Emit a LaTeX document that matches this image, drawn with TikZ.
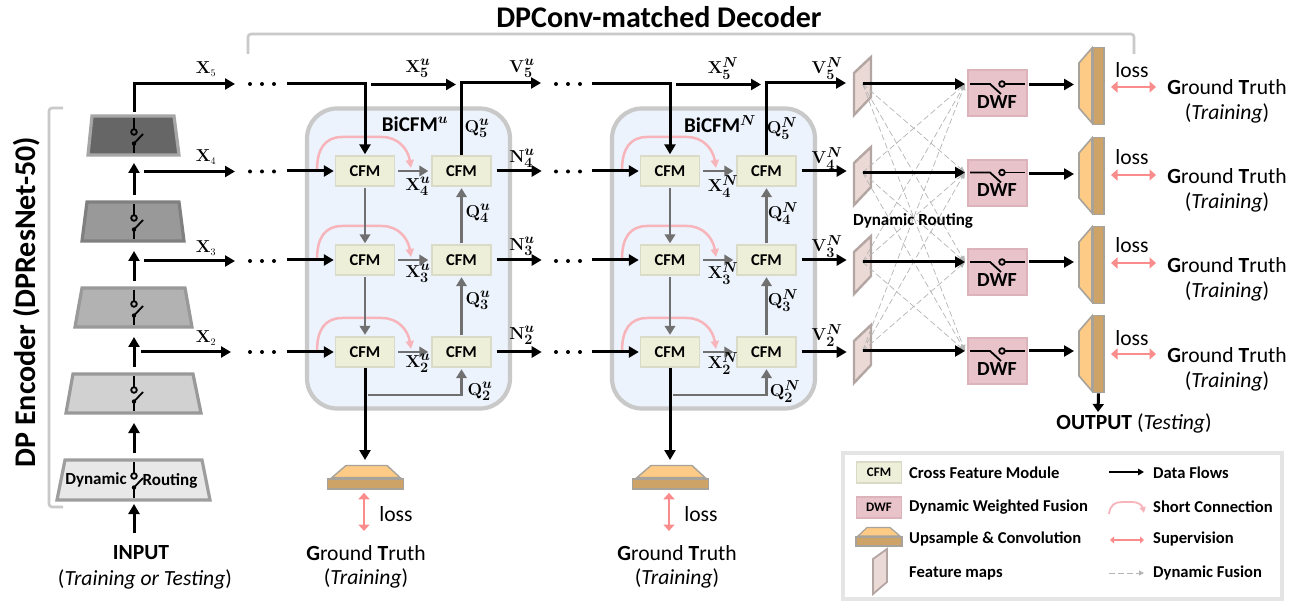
\documentclass[tikz,border=0pt]{standalone}
\usepackage[no-math]{fontspec}
\setmainfont{Carlito}
\usetikzlibrary{arrows.meta,calc}
\DeclareMathSizes{18}{18}{13.5}{10}
\DeclareMathSizes{21}{21}{15}{11}
\definecolor{brk}{HTML}{C9C9C9}
\definecolor{blockf}{HTML}{EDF3FC}
\definecolor{cfmf}{HTML}{EDEFD8}
\definecolor{cfmb}{HTML}{D9DBC8}
\definecolor{dwff}{HTML}{E8C3CA}
\definecolor{dwfb}{HTML}{DDB3BB}
\definecolor{grayar}{HTML}{707070}
\definecolor{pinka}{HTML}{F7B4BA}
\definecolor{pinks}{HTML}{FB8C8C}
\definecolor{orf}{HTML}{FDCB85}
\definecolor{orr}{HTML}{CDA368}
\definecolor{orb}{HTML}{A8A39A}
\definecolor{fmf}{HTML}{EBD9D5}
\definecolor{fmb}{HTML}{B3A6A2}
\definecolor{dashc}{HTML}{B5B5B5}
\tikzset{
  blk/.style={line width=3pt,black,-{Triangle[length=10pt,width=11pt]}},
  gra/.style={line width=2.6pt,grayar,-{Triangle[length=9pt,width=10.5pt]}},
  pnk/.style={line width=2.5pt,pinka,-{Triangle[length=8pt,width=8pt]}},
  superv/.style={line width=2.6pt,pinks,{Triangle[length=6.5pt,width=11pt]}-{Triangle[length=6.5pt,width=11pt]}},
  dsh/.style={line width=.7pt,dashc,dash pattern=on 6pt off 3pt,-{Triangle[length=6pt,width=5pt]}},
  cfmbox/.style={draw=cfmb,line width=1.4pt,fill=cfmf,minimum width=59pt,minimum height=30pt,inner sep=0pt,font=\fontsize{16.5}{18}\selectfont\bfseries},
  dwfbox/.style={draw=dwfb,line width=1.2pt,fill=dwff,minimum width=59pt,minimum height=46pt,inner sep=0pt},
  anch/.style={inner sep=0pt,outer sep=0pt},
  mlab/.style={inner sep=0pt,yshift=1.5pt,font=\fontsize{18}{20}\selectfont\boldmath},
  xlab/.style={inner sep=0pt,font=\fontsize{18}{20}\selectfont},
  txt/.style={inner sep=0pt,font=\fontsize{21.6}{24}\selectfont},
  btxt/.style={inner sep=0pt,font=\fontsize{21.6}{24}\selectfont\bfseries},
  smb/.style={inner sep=0pt,font=\fontsize{17}{19}\selectfont\bfseries},
  lgt/.style={inner sep=0pt,anchor=west,font=\fontsize{16.6}{18}\selectfont\bfseries},
  dotc/.style={fill=black,draw=none},
  swl/.style={line width=1.8pt,black},
  brkt/.style={line width=2.6pt,brk,rounded corners=3pt},
}
\newcommand{\encoder}[9]{% name, ytop, ybot, top l, top r, bot l, bot r, fill, border
  \draw[line width=3.2pt,#9,fill=#8,line join=miter] (#4,#2) -- (#5,#2) -- (#7,#3) -- (#6,#3) -- cycle;
  \pgfmathsetmacro{\ymid}{(#2+#3)/2}
  \pgfmathsetmacro{\wid}{#7-#6}
  \pgfmathsetmacro{\hei}{#3-#2}
  \node[anch,minimum width=\wid pt,minimum height=\hei pt] (#1) at (134,\ymid) {};
  \draw[swl] (134,{#2+2}) -- (134,{#2+13});
  \draw[swl] (134,{#2+16}) circle (2.8pt);
  \fill (134,{#2+27.5}) circle (2.2pt);
  \draw[swl] (134,{#2+27.5}) -- (143,{#2+18});
  \draw[swl] (134,{#2+27.5}) -- (134,{#3-2});
}
\begin{document}
\begin{tikzpicture}[x=1pt,y=-1pt]
\useasboundingbox (0,0) rectangle (1306,601);
\fill[white] (0,0) rectangle (1306,601);

% title and brackets
\node[inner sep=0pt,font=\fontsize{30}{32}\selectfont\bfseries] (title) at (659,17) {DPConv-matched Decoder};
\draw[brkt] (248,54) -- (248,34) -- (1134,34) -- (1134,54);
\draw[brkt] (63,108) -- (49,108) -- (49,507) -- (63,507);
\node[inner sep=0pt,rotate=90,font=\fontsize{30}{32}\selectfont\bfseries] (enc) at (27,302) {DP Encoder (DPResNet-50)};

% encoder
\encoder{E5}{116}{155}{92}{174}{88}{179}{black!60}{black!35}
\encoder{E4}{202}{241}{87}{179}{82}{184}{black!40}{black!50}
\encoder{E3}{288}{327}{82}{185}{75}{192}{black!30}{black!40}
\encoder{E2}{374}{413}{73}{193}{66}{201}{black!18}{black!40}
\encoder{E1}{460}{500}{65}{202}{57}{210}{black!9}{black!38}
\node[smb] (dyn1) at (96,480) {Dynamic};
\node[smb] (rout1) at (170,481) {Routing};

\node[btxt] (inp) at (141,553) {INPUT};
\node[txt] (inp2) at (145,579) {(\textit{Training or Testing})};
\coordinate (inps) at (134,533);
\draw[blk,shorten >=4pt] (inps) -- (E1.south);
\draw[blk,shorten <=7pt,shorten >=10pt] (E1.north) -- (E2.south);
\draw[blk,shorten <=7pt,shorten >=10pt] (E2.north) -- (E3.south);
\draw[blk,shorten <=7pt,shorten >=10pt] (E3.north) -- (E4.south);
\draw[blk,shorten <=7pt,shorten >=8pt] (E4.north) -- (E5.south);

% encoder outputs
\coordinate (x5a) at (235,84);
\coordinate (x4s) at (144,171.5); \coordinate (x4a) at (235,171.5);
\coordinate (x3s) at (144,261);   \coordinate (x3a) at (235,261);
\coordinate (x2s) at (141,352);   \coordinate (x2a) at (231,352);
\draw[blk,shorten <=4pt] (E5.north) -- (134,84) -- (x5a);
\draw[blk] (x4s) -- (x4a);
\draw[blk] (x3s) -- (x3a);
\draw[blk] (x2s) -- (x2a);
\node[xlab] (lx5) at (206,69) {$\mathbf{X}_{\scriptscriptstyle 5}$};
\node[xlab] (lx4) at (206,157) {$\mathbf{X}_{\scriptscriptstyle 4}$};
\node[xlab] (lx3) at (206,248) {$\mathbf{X}_{\scriptscriptstyle 3}$};
\node[xlab] (lx2) at (206,338) {$\mathbf{X}_{\scriptscriptstyle 2}$};

% dots
\foreach \y in {84,171.5,261,352}{
  \foreach \x in {250,262,274}{\fill[dotc] (\x,\y) circle (2pt);}
  \foreach \x in {556,568,580}{\fill[dotc] (\x,\y) circle (2pt);}
}

% two BiCFM blocks
\foreach \off/\s/\nm/\gtx in {0/u/N/366,305/N/V/372}{
\begin{scope}[shift={(\off,0)}]
  \node[draw=brk,line width=4.2pt,fill=blockf,rounded corners=30pt,minimum width=203pt,minimum height=300pt,inner sep=0pt] (blk\s) at (408.5,258.5) {};
  \node[inner sep=0pt,font=\fontsize{21}{23}\selectfont\bfseries\boldmath] (bi\s) at (415,124) {BiCFM$^{\s}$};
  % short connections
  \foreach \y/\r in {171/4,260/3,352/2}{
    \draw[pnk,line cap=round] (317,{\y-1}) .. controls (317,{\y-22}) and (325,{\y-34}) .. (342,{\y-34}) -- (382,{\y-34}) .. controls (398,{\y-34}) and (408,{\y-22}) .. (411,{\y-3});
  }
  % CFMs
  \foreach \y/\r in {171/4,260/3,352/2}{
    \node[cfmbox] (L\r\s) at (365,\y) {CFM};
    \node[cfmbox] (R\r\s) at (461.5,\y) {CFM};
  }
  \foreach \r/\y in {4/171,3/260,2/352}{
    \draw[blk,shorten >=1pt] ($(L\r\s.west)+(-48,0)$) -- (L\r\s.west);
    \draw[gra,shorten <=3pt,shorten >=3pt] (L\r\s.east) -- (R\r\s.west);
    \coordinate (nx\r\s) at ($(R\r\s.east)+(50,0)$);
    \draw[blk,shorten <=5pt] (R\r\s.east) -- (nx\r\s);
  }
  \draw[gra,shorten <=1.5pt,shorten >=1pt] (L4\s.south) -- (L3\s.north);
  \draw[gra,shorten <=1.5pt,shorten >=1.5pt] (L3\s.south) -- (L2\s.north);
  \draw[gra,shorten <=1pt,shorten >=1.5pt] (R3\s.north) -- (R4\s.south);
  \draw[gra,shorten <=1pt,shorten >=1.5pt] (R2\s.north) -- (R3\s.south);
  \coordinate (qs\s) at (368,395);
  \draw[gra,shorten >=1.5pt] (qs\s) -- (R2\s.south |- qs\s) -- (R2\s.south);
  % top row
  \coordinate (t0\s) at (287,84);
  \draw[blk,shorten >=1pt] (t0\s) -- (L4\s.north |- t0\s) -- (L4\s.north);
  \coordinate (t1\s) at (371,84.5);
  \coordinate (t2\s) at (456,84.5);
  \draw[blk] (t1\s) -- (t2\s);
  \coordinate (vt\s) at (541,83);
  \draw[blk] (R4\s.north) -- (R4\s.north |- vt\s) -- (vt\s);
  % upsample head
  \coordinate (us\s) at (365,460);
  \draw[blk] (L2\s.south) -- (us\s);
  \draw[line width=1.4pt,orb,fill=orf] (332,477.5) -- (346,465.5) -- (387,465.5) -- (400,477.5) -- cycle;
  \node[draw=orb,line width=1.6pt,fill=orr,minimum width=76pt,minimum height=10pt,inner sep=0pt] (up\s) at (365.5,484) {};
  \node[txt] (gt\s) at (\gtx,553) {\textbf{G}round \textbf{T}ruth};
  \node[txt] (tr\s) at (\gtx,578) {(\textit{Training})};
  \node[txt] (ls\s) at (396,514) {loss};
  \coordinate (ga\s) at (364,531);
  \draw[superv,shorten <=3pt] (up\s.south -| ga\s) -- (ga\s);
  % labels
  \node[mlab] (a5\s) at (418,70) {$\mathbf{X}^{\s}_5$};
  \node[mlab] (v5\s) at (522,70) {$\mathbf{V}^{\s}_5$};
  \node[mlab] (q5\s) at (477,130) {$\mathbf{Q}^{\s}_5$};
  \node[mlab] (n4\s) at (522,160) {$\mathbf{\nm}^{\s}_4$};
  \node[mlab] (a4\s) at (418,188) {$\mathbf{X}^{\s}_4$};
  \node[mlab] (q4\s) at (478,215) {$\mathbf{Q}^{\s}_4$};
  \node[mlab] (n3\s) at (522,248) {$\mathbf{\nm}^{\s}_3$};
  \node[mlab] (a3\s) at (418,275) {$\mathbf{X}^{\s}_3$};
  \node[mlab] (q3\s) at (478,302) {$\mathbf{Q}^{\s}_3$};
  \node[mlab] (n2\s) at (522,337) {$\mathbf{\nm}^{\s}_2$};
  \node[mlab] (a2\s) at (418,365) {$\mathbf{X}^{\s}_2$};
  \node[mlab] (q2\s) at (480,393) {$\mathbf{Q}^{\s}_2$};
\end{scope}
}
% feature maps, DWF, heads
\foreach \r/\t/\a/\o in {5/0/84/84.5,4/90/172.5/174,3/179/262/262,2/268/351/351}{
  \draw[line width=2.4pt,fmb,fill=fmf] (854,{73+\t}) -- (871,{57+\t}) -- (871,{97+\t}) -- (854,{115+\t}) -- cycle;
  \coordinate (F\r) at (862.5,\a);
  \node[dwfbox] (D\r) at (997.5,{93+\t}) {};
  \coordinate (W\r) at (965,\a);
}
\foreach \r in {5,4,3,2}{
  \foreach \rr in {5,4,3,2}{
    \ifnum\r=\rr\else
      \draw[dsh] (F\r) -- (W\rr);
    \fi
  }
}
\foreach \r/\t/\a/\o in {5/0/84/84.5,4/90/172.5/174,3/179/262/262,2/268/351/351}{
  \draw[blk] (F\r) -- (W\r);
  \draw[swl] (970,\a) -- (990,\a) -- (1001,{\a+10});
  \draw[swl] (1002,\a) circle (2.8pt);
  \draw[swl] (1005,\a) -- (1025,\a);
  \node[inner sep=0pt,font=\fontsize{20}{22}\selectfont\bfseries] (dl\r) at (997,{\a+18}) {DWF};
  \draw[line width=1.6pt,orb,fill=orf] (1079,{63+\t}) -- (1092,{48+\t}) -- (1092,{123+\t}) -- (1079,{108+\t}) -- cycle;
  \node[draw=orb,line width=1.6pt,fill=orr,minimum width=11pt,minimum height=77pt,inner sep=0pt] (H\r) at (1098.5,{86+\t}) {};
  \draw[blk] (1029,\o) -- (1074,\o);
}
\node[smb] (dynr) at (913,221) {Dynamic Routing};

\foreach \r/\l/\s/\g in {5/70/87/87,4/157/175/176,3/245/263/265,2/338/354/355}{
  \node[txt] (lo\r) at (1132,\l) {loss};
  \draw[superv] (1111,\s) -- (1156,\s);
  \node[txt] (G\r) at (1227,\g) {\textbf{G}round \textbf{T}ruth};
  \node[txt] (T\r) at (1227,{\g+26}) {(\textit{Training})};
}
\coordinate (oa) at (1098,412);
\draw[line width=3pt,black,-{Triangle[length=8pt,width=11pt]}] (H2.south) -- (oa);
\node[txt] (outp) at (1134,423) {\textbf{OUTPUT} (\textit{Testing})};

% legend
\node[draw=black!10,line width=3.4pt,minimum width=439pt,minimum height=146pt,inner sep=0pt] (leg) at (1062.5,526) {};
\node[cfmbox,minimum width=45pt,minimum height=21pt,font=\fontsize{13}{15}\selectfont\bfseries] (lc) at (879,472.5) {CFM};
\node[dwfbox,minimum width=45pt,minimum height=21pt,font=\fontsize{13}{15}\selectfont\bfseries] (ld) at (879,507.5) {DWF};
\draw[line width=1.2pt,orb,fill=orf] (858,536) -- (867,527.5) -- (890,527.5) -- (900,536) -- cycle;
\node[draw=orb,line width=1.4pt,fill=orr,minimum width=46pt,minimum height=9pt,inner sep=0pt] (lu) at (879,541.5) {};
\draw[line width=1.8pt,fmb,fill=fmf] (873,559) -- (887,549) -- (887,582) -- (873,594) -- cycle;
\node[lgt] (t1) at (909,473) {Cross Feature Module};
\node[lgt] (t2) at (909,507) {Dynamic Weighted Fusion};
\node[lgt] (t3) at (909,539) {Upsample \& Convolution};
\node[lgt] (t4) at (909,573) {Feature maps};
\node[lgt] (t5) at (1153,473) {Data Flows};
\node[lgt] (t6) at (1153,507) {Short Connection};
\node[lgt] (t7) at (1153,539) {Supervision};
\node[lgt] (t8) at (1153,573) {Dynamic Fusion};
\draw[line width=1.8pt,black,-{Triangle[length=6pt,width=6.5pt]}] (1109,472) -- (1144,472);
\draw[line width=1.8pt,pinka,-{Triangle[length=6pt,width=6pt]}] (1109,514) .. controls (1110,505) and (1115,502) .. (1122,502) -- (1132,502) .. controls (1138,502) and (1142,505) .. (1144,513);
\draw[line width=1.8pt,pinks,{Triangle[length=4pt,width=7pt]}-{Triangle[length=4pt,width=7pt]}] (1110,540) -- (1144,540);
\draw[line width=1pt,dashc,dash pattern=on 6pt off 3pt,-{Triangle[length=5pt,width=5pt]}] (1109,573) -- (1144,573);
\end{tikzpicture}
\end{document}
